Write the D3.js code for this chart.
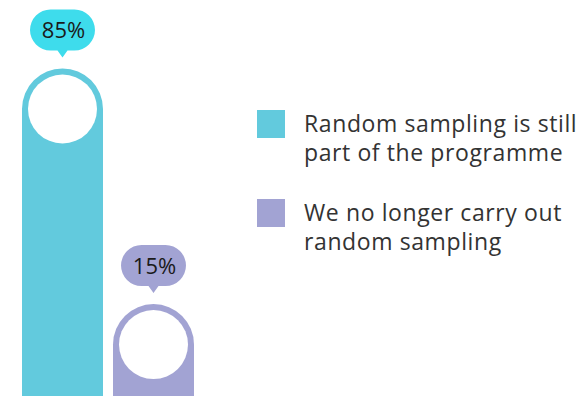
<!DOCTYPE html>
<html>
<head>
<meta charset="utf-8">
<script src="https://cdn.jsdelivr.net/npm/d3@7"></script>
<style>
  html, body { margin: 0; padding: 0; background: #fff; }
  svg { display: block; }
  text { font-family: "Open Sans", Lato, sans-serif; }
</style>
</head>
<body>
<svg id="chart" width="579" height="396"></svg>
<script>
// Survey answers: share of respondents (%)
const categories = ["Random sampling is still part of the programme", "We no longer carry out random sampling"];
const values = [85, 15];
const valueLabels = ["85%", "15%"];
const barColors = ["#62cadd", "#a2a3d3"];
const bubbleColors = ["#3edcec", "#a2a3d3"];
const legendLines = [["Random sampling is still", "part of the programme"], ["We no longer carry out", "random sampling"]];

const svg = d3.select("#chart");
const W = 579, H = 396;

const x = d3.scaleBand().domain(categories).range([22, 194]).paddingInner(0.11).paddingOuter(0);
const y = d3.scaleLinear().domain([0, 85]).range([395, 109]);

const bw = x.bandwidth();
const r = bw / 2;

// Bars: rectangle from baseline up to value, capped by a half circle
const bars = svg.selectAll("g.bar").data(categories).join("g").attr("class", "bar");

bars.append("path")
  .attr("fill", (d, i) => barColors[i])
  .attr("d", (d, i) => {
    const x0 = x(d), x1 = x0 + bw, yt = y(values[i]);
    return `M${x0},${H} L${x0},${yt} A${r},${r} 0 0 1 ${x1},${yt} L${x1},${H} Z`;
  });

// White disc inside the cap
bars.append("circle")
  .attr("cx", d => x(d) + r)
  .attr("cy", (d, i) => y(values[i]))
  .attr("r", r - 6)
  .attr("fill", "#fff");

// Speech bubble with the value above each bar
const bubbleW = 65, bubbleH = 41;
bars.append("path")
  .attr("fill", (d, i) => bubbleColors[i])
  .attr("d", (d, i) => {
    const cx = x(d) + r;
    const bottom = y(values[i]) - r - 18;
    const top = bottom - bubbleH;
    const left = cx - bubbleW / 2, right = cx + bubbleW / 2;
    const rr = bubbleH / 2;
    return `M${left + rr},${top} L${right - rr},${top} A${rr},${rr} 0 0 1 ${right - rr},${bottom}` +
      ` L${cx + 5},${bottom} L${cx},${bottom + 7} L${cx - 5},${bottom}` +
      ` L${left + rr},${bottom} A${rr},${rr} 0 0 1 ${left + rr},${top} Z`;
  });

bars.append("text")
  .attr("x", d => x(d) + r + 1)
  .attr("y", (d, i) => y(values[i]) - r - 18 - bubbleH / 2 + 8)
  .attr("text-anchor", "middle")
  .attr("font-size", 22)
  .attr("fill", "#1a1a1a")
  .text((d, i) => valueLabels[i]);

// Legend: swatch plus a two-line label, one text element per line
const legend = svg.selectAll("g.legend").data(categories).join("g")
  .attr("class", "legend")
  .attr("transform", (d, i) => `translate(257, ${110 + i * 89})`);

legend.append("rect")
  .attr("width", 28).attr("height", 28)
  .attr("fill", (d, i) => barColors[i]);

legend.selectAll("text")
  .data((d, i) => legendLines[i])
  .join("text")
  .attr("x", 47)
  .attr("y", (d, j) => 22 + j * 29)
  .attr("font-size", 23)
  .attr("letter-spacing", 0.6)
  .attr("fill", "#333")
  .text(d => d);
</script>
</body>
</html>
